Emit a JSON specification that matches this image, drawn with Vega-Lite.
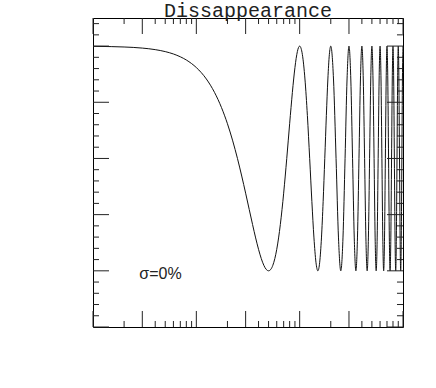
{
  "$schema": "https://vega.github.io/schema/vega-lite/v6.json",
  "width": 310,
  "height": 309,
  "autosize": "none",
  "padding": {"left": 93, "top": 18, "right": 33, "bottom": 61},
  "background": "white",
  "config": {
    "view": {"stroke": "#000", "strokeWidth": 1},
    "axis": {"grid": false, "domain": false, "labelFont": "DejaVu Sans", "labelFontSize": 13, "labelColor": "#222", "labelFlush": false, "labelOverlap": false}
  },
  "title": {"text": "Dissappearance", "font": "Liberation Mono", "fontSize": 20, "fontWeight": "normal", "color": "#222", "offset": -3},
  "datasets": {
    "curve": [
      {"L":0.01,"P":0.9992},{"L":0.015,"P":0.9982},{"L":0.02,"P":0.9968},{"L":0.03,"P":0.9929},{"L":0.04,"P":0.9874},{"L":0.05,"P":0.9804},{"L":0.06,"P":0.9719},{"L":0.07,"P":0.9619},{"L":0.08,"P":0.9505},{"L":0.09,"P":0.9377},{"L":0.1,"P":0.9236},{"L":0.125,"P":0.8829},{"L":0.15,"P":0.8351},{"L":0.175,"P":0.7816},{"L":0.2,"P":0.7236},{"L":0.225,"P":0.6626},{"L":0.25,"P":0.6},{"L":0.275,"P":0.5374},{"L":0.3,"P":0.4764},{"L":0.325,"P":0.4184},{"L":0.35,"P":0.3649},{"L":0.375,"P":0.3171},{"L":0.4,"P":0.2764},{"L":0.425,"P":0.2436},{"L":0.45,"P":0.2196},{"L":0.475,"P":0.2049},{"L":0.5,"P":0.2},{"L":0.525,"P":0.2049},{"L":0.55,"P":0.2196},{"L":0.575,"P":0.2436},{"L":0.6,"P":0.2764},{"L":0.625,"P":0.3171},{"L":0.65,"P":0.3649},{"L":0.675,"P":0.4184},{"L":0.7,"P":0.4764},{"L":0.725,"P":0.5374},{"L":0.75,"P":0.6},{"L":0.775,"P":0.6626},{"L":0.8,"P":0.7236},{"L":0.825,"P":0.7816},{"L":0.85,"P":0.8351},{"L":0.875,"P":0.8829},{"L":0.9,"P":0.9236},{"L":0.925,"P":0.9564},{"L":0.95,"P":0.9804},{"L":0.975,"P":0.9951},{"L":1,"P":1},
      {"L":1.0625,"P":0.9696},{"L":1.125,"P":0.8829},{"L":1.1875,"P":0.753},{"L":1.25,"P":0.6},{"L":1.3125,"P":0.447},{"L":1.375,"P":0.3171},{"L":1.4375,"P":0.2305},{"L":1.5,"P":0.2},{"L":1.5625,"P":0.2305},{"L":1.625,"P":0.3171},{"L":1.6875,"P":0.447},{"L":1.75,"P":0.6},{"L":1.8125,"P":0.753},{"L":1.875,"P":0.8829},{"L":1.9375,"P":0.9696},{"L":2,"P":1},
      {"L":2.125,"P":0.8829},{"L":2.25,"P":0.6},{"L":2.375,"P":0.3171},{"L":2.5,"P":0.2},{"L":2.625,"P":0.3171},{"L":2.75,"P":0.6},{"L":2.875,"P":0.8829},{"L":3,"P":1},
      {"L":3.125,"P":0.8829},{"L":3.25,"P":0.6},{"L":3.375,"P":0.3171},{"L":3.5,"P":0.2},{"L":3.625,"P":0.3171},{"L":3.75,"P":0.6},{"L":3.875,"P":0.8829},{"L":4,"P":1},
      {"L":4.125,"P":0.8829},{"L":4.25,"P":0.6},{"L":4.375,"P":0.3171},{"L":4.5,"P":0.2},{"L":4.625,"P":0.3171},{"L":4.75,"P":0.6},{"L":4.875,"P":0.8829},{"L":5,"P":1},
      {"L":5.125,"P":0.8829},{"L":5.25,"P":0.6},{"L":5.375,"P":0.3171},{"L":5.5,"P":0.2},{"L":5.625,"P":0.3171},{"L":5.75,"P":0.6},{"L":5.875,"P":0.8829},{"L":6,"P":1},
      {"L":6.125,"P":0.8829},{"L":6.25,"P":0.6},{"L":6.375,"P":0.3171},{"L":6.5,"P":0.2},{"L":6.625,"P":0.3171},{"L":6.75,"P":0.6},{"L":6.875,"P":0.8829},{"L":7,"P":1},
      {"L":7.125,"P":0.8829},{"L":7.25,"P":0.6},{"L":7.375,"P":0.3171},{"L":7.5,"P":0.2},{"L":7.625,"P":0.3171},{"L":7.75,"P":0.6},{"L":7.875,"P":0.8829},{"L":8,"P":1},
      {"L":8.125,"P":0.8829},{"L":8.25,"P":0.6},{"L":8.375,"P":0.3171},{"L":8.5,"P":0.2},{"L":8.625,"P":0.3171},{"L":8.75,"P":0.6},{"L":8.875,"P":0.8829},{"L":9,"P":1},
      {"L":9.125,"P":0.8829},{"L":9.25,"P":0.6},{"L":9.375,"P":0.3171},{"L":9.5,"P":0.2},{"L":9.625,"P":0.3171},{"L":9.75,"P":0.6},{"L":9.875,"P":0.8829},{"L":10,"P":1}
    ],
    "xmajor": [{"v":0.01},{"v":0.03},{"v":0.1},{"v":0.3},{"v":1},{"v":3},{"v":10}],
    "xminor": [{"v":0.02},{"v":0.04},{"v":0.05},{"v":0.06},{"v":0.07},{"v":0.08},{"v":0.09},{"v":0.2},{"v":0.4},{"v":0.5},{"v":0.6},{"v":0.7},{"v":0.8},{"v":0.9},{"v":2},{"v":4},{"v":5},{"v":6},{"v":7},{"v":8},{"v":9}],
    "ymajor": [{"v":0},{"v":0.2},{"v":0.4},{"v":0.6},{"v":0.8},{"v":1.0}],
    "yminor": [{"v":0.04},{"v":0.08},{"v":0.12},{"v":0.16},{"v":0.24},{"v":0.28},{"v":0.32},{"v":0.36},{"v":0.44},{"v":0.48},{"v":0.52},{"v":0.56},{"v":0.64},{"v":0.68},{"v":0.72},{"v":0.76},{"v":0.84},{"v":0.88},{"v":0.92},{"v":0.96},{"v":1.04},{"v":1.08}],
    "note": [{"L":0.045,"P":0.19,"label":"σ=0%"}]
  },
  "layer": [
    {
      "data": {"name": "curve"},
      "mark": {"type": "line", "color": "#111", "strokeWidth": 1, "interpolate": "monotone"},
      "encoding": {
        "x": {"field": "L", "type": "quantitative", "scale": {"type": "log", "domain": [0.01, 10], "nice": false},
          "axis": {"orient": "bottom", "values": [0.01,0.03,0.1,0.3,1,3,10], "format": ".2f", "ticks": false, "labelPadding": 8,
            "title": "L", "titleFont": "DejaVu Serif", "titleFontSize": 18, "titleFontWeight": "normal", "titleColor": "#222", "titleY": 40, "titleBaseline": "middle"}},
        "y": {"field": "P", "type": "quantitative", "scale": {"domain": [0, 1.1], "nice": false, "zero": false},
          "axis": {"orient": "left", "values": [0,0.2,0.4,0.6,0.8,1.0], "format": ".1f", "ticks": false, "labelPadding": 5,
            "title": "<P(νμ −> νμ)>", "titleFont": "DejaVu Serif", "titleFontSize": 16, "titleFontWeight": "normal", "titleColor": "#222", "titleX": -58, "titleY": 145, "titleBaseline": "middle", "titleAngle": -90}}
      }
    },
    {
      "data": {"name": "xmajor"},
      "mark": {"type": "rule", "color": "#222", "strokeWidth": 1},
      "encoding": {
        "x": {"field": "v", "type": "quantitative", "axis": null},
        "y": {"datum": 0, "type": "quantitative", "axis": null},
        "y2": {"datum": 0.057}
      }
    },
    {
      "data": {"name": "xmajor"},
      "mark": {"type": "rule", "color": "#222", "strokeWidth": 1},
      "encoding": {
        "x": {"field": "v", "type": "quantitative", "axis": null},
        "y": {"datum": 1.1, "type": "quantitative", "axis": null},
        "y2": {"datum": 1.043}
      }
    },
    {
      "data": {"name": "xminor"},
      "mark": {"type": "rule", "color": "#222", "strokeWidth": 1},
      "encoding": {
        "x": {"field": "v", "type": "quantitative", "axis": null},
        "y": {"datum": 0, "type": "quantitative", "axis": null},
        "y2": {"datum": 0.0214}
      }
    },
    {
      "data": {"name": "xminor"},
      "mark": {"type": "rule", "color": "#222", "strokeWidth": 1},
      "encoding": {
        "x": {"field": "v", "type": "quantitative", "axis": null},
        "y": {"datum": 1.1, "type": "quantitative", "axis": null},
        "y2": {"datum": 1.0786}
      }
    },
    {
      "data": {"name": "ymajor"},
      "mark": {"type": "rule", "color": "#222", "strokeWidth": 1},
      "encoding": {
        "y": {"field": "v", "type": "quantitative", "axis": null},
        "x": {"datum": 0.01, "type": "quantitative", "axis": null},
        "x2": {"datum": 0.014287}
      }
    },
    {
      "data": {"name": "ymajor"},
      "mark": {"type": "rule", "color": "#222", "strokeWidth": 1},
      "encoding": {
        "y": {"field": "v", "type": "quantitative", "axis": null},
        "x": {"datum": 10, "type": "quantitative", "axis": null},
        "x2": {"datum": 6.999}
      }
    },
    {
      "data": {"name": "yminor"},
      "mark": {"type": "rule", "color": "#222", "strokeWidth": 1},
      "encoding": {
        "y": {"field": "v", "type": "quantitative", "axis": null},
        "x": {"datum": 0.01, "type": "quantitative", "axis": null},
        "x2": {"datum": 0.011432}
      }
    },
    {
      "data": {"name": "yminor"},
      "mark": {"type": "rule", "color": "#222", "strokeWidth": 1},
      "encoding": {
        "y": {"field": "v", "type": "quantitative", "axis": null},
        "x": {"datum": 10, "type": "quantitative", "axis": null},
        "x2": {"datum": 8.7474}
      }
    },
    {
      "data": {"name": "note"},
      "mark": {"type": "text", "font": "Liberation Sans", "fontSize": 16, "color": "#222", "align": "center", "baseline": "middle"},
      "encoding": {
        "x": {"field": "L", "type": "quantitative", "axis": null},
        "y": {"field": "P", "type": "quantitative", "axis": null},
        "text": {"field": "label"}
      }
    }
  ]
}
